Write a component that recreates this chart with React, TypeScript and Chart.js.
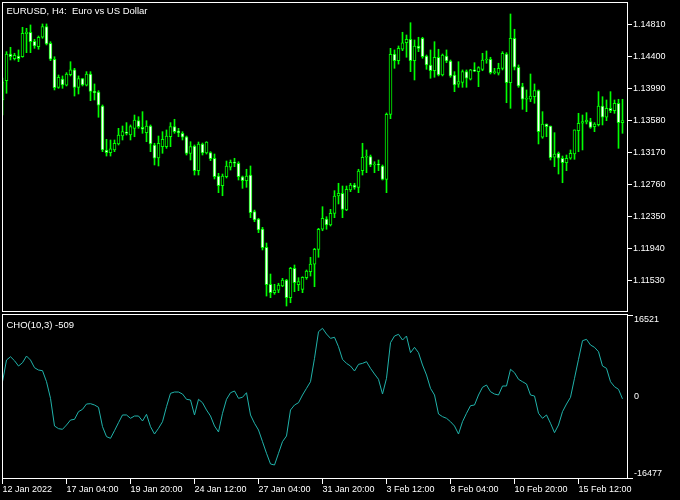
import React, { useEffect, useRef } from 'react';
import { Chart, registerables } from 'chart.js';

Chart.register(...registerables);

// ---- data (bar index -1 .. 154, H4 bars) ----
const opens = [
  1.13846, 1.14094, 1.14437, 1.14377, 1.14411, 1.14402, 1.14698, 1.14716, 1.14600, 1.14531,
  1.14652, 1.14788, 1.14575, 1.14369, 1.14009, 1.14116, 1.14035, 1.14171, 1.14232, 1.14009,
  1.14120, 1.14035, 1.14180, 1.13957, 1.13949, 1.13769, 1.13204, 1.13169, 1.13204, 1.13281,
  1.13383, 1.13435, 1.13396, 1.13482, 1.13580, 1.13495, 1.13426, 1.13512, 1.13268, 1.13101,
  1.13246, 1.13246, 1.13374, 1.13503, 1.13448, 1.13418, 1.13374, 1.13161, 1.13255, 1.12938,
  1.13281, 1.13165, 1.13169, 1.13097, 1.12869, 1.12745, 1.12860, 1.12982, 1.13045, 1.13033,
  1.12860, 1.12809, 1.12882, 1.12411, 1.12317, 1.12188, 1.11953, 1.11478, 1.11370, 1.11404,
  1.11456, 1.11533, 1.11306, 1.11683, 1.11473, 1.11413, 1.11563, 1.11640, 1.11735, 1.11927,
  1.12185, 1.12317, 1.12240, 1.12390, 1.12612, 1.12647, 1.12432, 1.12690, 1.12754, 1.12724,
  1.12938, 1.13110, 1.13118, 1.13011, 1.13024, 1.12998, 1.12827, 1.13662, 1.14437, 1.14351,
  1.14498, 1.14582, 1.14626, 1.14351, 1.14540, 1.14639, 1.14411, 1.14296, 1.14222, 1.14395,
  1.14167, 1.14411, 1.14347, 1.14167, 1.14048, 1.14073, 1.14210, 1.14112, 1.14232, 1.14210,
  1.14240, 1.14360, 1.14369, 1.14197, 1.14189, 1.14253, 1.14437, 1.14068, 1.14639, 1.14267,
  1.14017, 1.13855, 1.13855, 1.13888, 1.13966, 1.13367, 1.13538, 1.13512, 1.13110, 1.13161,
  1.13097, 1.13040, 1.13097, 1.13152, 1.13452, 1.13547, 1.13564, 1.13567, 1.13503, 1.13529,
  1.13769, 1.13624, 1.13739, 1.13709, 1.13804, 1.13555,
];

const highs = [
  1.14129, 1.14467, 1.14523, 1.14446, 1.14489, 1.14780, 1.14767, 1.14810, 1.14626, 1.14668,
  1.14823, 1.14823, 1.14595, 1.14402, 1.14167, 1.14155, 1.14197, 1.14338, 1.14253, 1.14155,
  1.14125, 1.14210, 1.14210, 1.14052, 1.13966, 1.13782, 1.13341, 1.13332, 1.13332, 1.13482,
  1.13512, 1.13555, 1.13525, 1.13653, 1.13631, 1.13696, 1.13580, 1.13525, 1.13290, 1.13383,
  1.13439, 1.13461, 1.13555, 1.13598, 1.13482, 1.13439, 1.13383, 1.13310, 1.13268, 1.13306,
  1.13293, 1.13310, 1.13182, 1.13152, 1.12904, 1.12895, 1.13062, 1.13075, 1.13097, 1.13053,
  1.12869, 1.12956, 1.12998, 1.12432, 1.12326, 1.12210, 1.12008, 1.11610, 1.11478, 1.11491,
  1.11555, 1.11542, 1.11696, 1.11726, 1.11563, 1.11575, 1.11662, 1.11825, 1.11940, 1.12197,
  1.12475, 1.12346, 1.12441, 1.12681, 1.12776, 1.12741, 1.12741, 1.12776, 1.12776, 1.12956,
  1.13290, 1.13204, 1.13139, 1.13053, 1.13075, 1.13011, 1.13679, 1.14510, 1.14489, 1.14540,
  1.14716, 1.14681, 1.14839, 1.14617, 1.14652, 1.14652, 1.14424, 1.14489, 1.14595, 1.14498,
  1.14437, 1.14489, 1.14360, 1.14210, 1.14338, 1.14232, 1.14232, 1.14240, 1.14325, 1.14274,
  1.14446, 1.14476, 1.14395, 1.14253, 1.14318, 1.14467, 1.14454, 1.14951, 1.14755, 1.14296,
  1.14061, 1.13975, 1.14180, 1.14052, 1.13975, 1.13696, 1.13538, 1.13512, 1.13426, 1.13178,
  1.13126, 1.13139, 1.13204, 1.13461, 1.13675, 1.13653, 1.13683, 1.13611, 1.13555, 1.13953,
  1.13888, 1.13846, 1.13953, 1.13846, 1.13855, 1.13855,
];

const lows = [
  1.13653, 1.13932, 1.14360, 1.14360, 1.14338, 1.14395, 1.14454, 1.14454, 1.14510, 1.14498,
  1.14639, 1.14553, 1.14351, 1.13975, 1.13996, 1.13996, 1.14026, 1.14155, 1.13897, 1.13923,
  1.14026, 1.14026, 1.13837, 1.13846, 1.13624, 1.13182, 1.13126, 1.13126, 1.13182, 1.13268,
  1.13332, 1.13396, 1.13332, 1.13374, 1.13482, 1.13418, 1.13310, 1.13182, 1.13011, 1.12998,
  1.13161, 1.13225, 1.13246, 1.13418, 1.13374, 1.13332, 1.13139, 1.13075, 1.12882, 1.12882,
  1.13139, 1.13152, 1.13066, 1.12831, 1.12655, 1.12616, 1.12844, 1.12946, 1.12989, 1.12818,
  1.12711, 1.12724, 1.12334, 1.12282, 1.12141, 1.11919, 1.11327, 1.11306, 1.11349, 1.11370,
  1.11447, 1.11199, 1.11241, 1.11383, 1.11396, 1.11370, 1.11542, 1.11584, 1.11447, 1.11825,
  1.12166, 1.12185, 1.12227, 1.12334, 1.12510, 1.12334, 1.12424, 1.12668, 1.12699, 1.12655,
  1.12882, 1.12912, 1.12989, 1.12912, 1.12938, 1.12818, 1.12655, 1.13606, 1.14253, 1.14307,
  1.14480, 1.14395, 1.14210, 1.14103, 1.14467, 1.14382, 1.14240, 1.14125, 1.14138, 1.14155,
  1.14155, 1.14325, 1.14138, 1.13953, 1.14009, 1.14009, 1.14009, 1.14103, 1.14210, 1.14017,
  1.14222, 1.14318, 1.14180, 1.14180, 1.14167, 1.14232, 1.13811, 1.13739, 1.14232, 1.14009,
  1.13726, 1.13696, 1.13824, 1.13804, 1.13281, 1.13354, 1.13374, 1.13075, 1.12989, 1.12895,
  1.12783, 1.12938, 1.13084, 1.13084, 1.13182, 1.13204, 1.13538, 1.13482, 1.13439, 1.13512,
  1.13525, 1.13580, 1.13683, 1.13675, 1.13225, 1.13418,
];

const closes = [
  1.14078, 1.14437, 1.14402, 1.14420, 1.14377, 1.14703, 1.14720, 1.14595, 1.14540, 1.14652,
  1.14788, 1.14566, 1.14369, 1.14004, 1.14138, 1.14039, 1.14180, 1.14232, 1.14009, 1.14120,
  1.14039, 1.14180, 1.13957, 1.13940, 1.13778, 1.13204, 1.13169, 1.13220, 1.13290, 1.13396,
  1.13439, 1.13418, 1.13503, 1.13589, 1.13503, 1.13470, 1.13512, 1.13281, 1.13097, 1.13290,
  1.13341, 1.13383, 1.13503, 1.13439, 1.13426, 1.13367, 1.13161, 1.13246, 1.12938, 1.13281,
  1.13165, 1.13306, 1.13092, 1.12860, 1.12745, 1.12869, 1.12998, 1.13045, 1.13033, 1.12860,
  1.12809, 1.12869, 1.12398, 1.12304, 1.12176, 1.11948, 1.11473, 1.11370, 1.11404, 1.11469,
  1.11533, 1.11306, 1.11683, 1.11498, 1.11512, 1.11568, 1.11649, 1.11739, 1.11927, 1.12185,
  1.12326, 1.12240, 1.12390, 1.12612, 1.12647, 1.12441, 1.12699, 1.12754, 1.12724, 1.12934,
  1.13110, 1.13118, 1.13011, 1.13024, 1.13011, 1.12827, 1.13662, 1.14433, 1.14351, 1.14510,
  1.14582, 1.14626, 1.14351, 1.14540, 1.14510, 1.14402, 1.14296, 1.14222, 1.14395, 1.14167,
  1.14424, 1.14347, 1.14155, 1.14039, 1.14081, 1.14210, 1.14125, 1.14232, 1.14215, 1.14261,
  1.14360, 1.14369, 1.14197, 1.14210, 1.14253, 1.14446, 1.14068, 1.14639, 1.14267, 1.14026,
  1.13855, 1.13863, 1.13897, 1.13966, 1.13439, 1.13538, 1.13503, 1.13105, 1.13152, 1.13097,
  1.13040, 1.13097, 1.13161, 1.13461, 1.13547, 1.13567, 1.13589, 1.13495, 1.13538, 1.13769,
  1.13624, 1.13739, 1.13709, 1.13804, 1.13555, 1.13580,
];

const cho = [
  3170, 7810, 8520, 7670, 6530, 7240, 8670, 7810, 6170, 5670,
  5530, 3170, -390, -6320, -6890, -7030, -6110, -5040, -4890, -3250,
  -2750, -1610, -1540, -1820, -2320, -6460, -8600, -8960, -7320, -5610,
  -3960, -3960, -4670, -4180, -4180, -5250, -3820, -6460, -8040, -6820,
  -5400, -2180, 680, 960, 960, 530, -600, -750, -3960, -600,
  -1330, -2890, -4180, -6320, -7600, -3600, -600, 810, 1180, -390,
  -170, 810, -3960, -5740, -7180, -9680, -12170, -14460, -14680, -12170,
  -9680, -8460, -2890, -1820, -1330, 320, 1750, 3170, 8180, 13890,
  14610, 13390, 12460, 12690, 10670, 7960, 7100, 6530, 5460, 6890,
  7100, 7460, 6040, 4820, 3690, 530, 3900, 11530, 12960, 13330,
  12100, 12960, 9390, 10540, 9390, 6750, 4610, 1750, 320, -3750,
  -4320, -4670, -5400, -6320, -8040, -5400, -3600, -1970, -1820, 320,
  1970, 2460, 1030, 530, 320, 2250, 2250, 5830, 5100, 3690,
  3170, 2680, 320, 110, -3600, -4670, -3960, -5740, -7750, -6110,
  -3250, -1610, -170, 3900, 7960, 11960, 12250, 11030, 10540, 9600,
  6530, 6040, 3170, 2100, 1540, -509,
];

const firstBar = -1;
const timeTickBars = [-1, 15, 31, 47, 63, 79, 95, 111, 127, 143];
const timeTickLabels = [
  '12 Jan 2022', '17 Jan 04:00', '19 Jan 20:00', '24 Jan 12:00', '27 Jan 04:00',
  '31 Jan 20:00', '3 Feb 12:00', '8 Feb 04:00', '10 Feb 20:00', '15 Feb 12:00',
];
const priceTicks = [1.1153, 1.1194, 1.1235, 1.1276, 1.1317, 1.1358, 1.1399, 1.144, 1.1481];
const choTicks = [-16477, 0, 16521];
const mainTitle = 'EURUSD, H4:  Euro vs US Dollar';
const choTitle = 'CHO(10,3) -509';

// ---- styling ----
const FONT = 'Liberation Sans';
const LIME = '#00ff00';
const CYAN = '#20b2aa';
const X_MIN = -1.125;
const X_MAX = 155.375;

const framePlugin = {
  id: 'mtFrame',
  afterDraw(chart: any, _args: any, opts: any) {
    const { ctx, chartArea: a } = chart;
    ctx.save();
    ctx.strokeStyle = '#ffffff';
    ctx.lineWidth = 1;
    ctx.strokeRect(a.left + 0.5, a.top + 0.5, a.right - a.left - 1, a.bottom - a.top - 1);
    if (opts.stubs) {
      ctx.beginPath();
      ctx.moveTo(a.right, a.top + 1.5);
      ctx.lineTo(a.right + 5, a.top + 1.5);
      ctx.moveTo(a.right, a.bottom - 0.5);
      ctx.lineTo(a.right + 5, a.bottom - 0.5);
      ctx.stroke();
    }
    if (opts.label) {
      ctx.fillStyle = '#ffffff';
      ctx.font = `${opts.size || 9}px "${FONT}"`;
      ctx.textBaseline = 'alphabetic';
      ctx.textAlign = 'left';
      ctx.fillText(opts.label, a.left + 4.5, a.top + opts.labelDy);
    }
    ctx.restore();
  },
};

const noPad = (s: any) => {
  s.paddingTop = 0;
  s.paddingBottom = 0;
  s.paddingLeft = 0;
  s.paddingRight = 0;
};

export default function App() {
  const mainRef = useRef<HTMLCanvasElement | null>(null);
  const subRef = useRef<HTMLCanvasElement | null>(null);

  useEffect(() => {
    const tickFont = { family: FONT, size: 9 };
    const main = new Chart(mainRef.current as HTMLCanvasElement, {
      type: 'bar',
      data: {
        datasets: [
          {
            label: 'body',
            data: opens.map((o, i) => ({ x: i + firstBar, y: [o, closes[i]] })) as any,
            backgroundColor: opens.map((o, i) => (closes[i] < o ? '#ffffff' : '#000000')),
            borderColor: LIME,
            borderWidth: 1,
            borderSkipped: false,
            barThickness: 3,
            minBarLength: 1,
            grouped: false,
          } as any,
          {
            label: 'wick',
            data: lows.map((l, i) => ({ x: i + firstBar, y: [l, highs[i]] })) as any,
            backgroundColor: LIME,
            borderWidth: 0,
            barThickness: 1,
            minBarLength: 1,
            grouped: false,
          } as any,
        ],
      },
      options: {
        animation: false,
        responsive: false,
        devicePixelRatio: 1,
        layout: { padding: { left: 2, top: 2, right: 0, bottom: 1 } },
        plugins: {
          legend: { display: false },
          tooltip: { enabled: false },
          mtFrame: { label: mainTitle, labelDy: 12, size: 9.5 },
        } as any,
        scales: {
          x: { type: 'linear', min: X_MIN, max: X_MAX, offset: false, display: false },
          y: {
            position: 'right',
            min: 1.11122,
            max: 1.15105,
            afterBuildTicks: (s: any) => { s.ticks = priceTicks.map((v) => ({ value: v })); },
            afterFit: (s: any) => { s.width = 52; noPad(s); },
            grid: { drawOnChartArea: false, color: '#ffffff', tickLength: 4 },
            border: { display: false },
            ticks: {
              color: '#ffffff',
              font: tickFont,
              padding: 1,
              callback: (v: any) => Number(v).toFixed(5),
            },
          },
        },
      } as any,
      plugins: [framePlugin],
    });

    const sub = new Chart(subRef.current as HTMLCanvasElement, {
      type: 'line',
      data: {
        datasets: [
          {
            label: 'CHO',
            data: cho.map((v, i) => ({ x: i + firstBar, y: v })) as any,
            borderColor: CYAN,
            borderWidth: 1,
            pointRadius: 0,
            tension: 0,
            fill: false,
          },
        ],
      },
      options: {
        animation: false,
        responsive: false,
        devicePixelRatio: 1,
        layout: { padding: { left: 2, top: 1, right: 0, bottom: 0 } },
        plugins: {
          legend: { display: false },
          tooltip: { enabled: false },
          mtFrame: { label: choTitle, labelDy: 14, stubs: true, size: 9.5 },
        } as any,
        scales: {
          x: {
            type: 'linear',
            min: X_MIN,
            max: X_MAX,
            offset: false,
            afterBuildTicks: (s: any) => { s.ticks = timeTickBars.map((v) => ({ value: v })); },
            afterFit: (s: any) => { s.height = 21; noPad(s); },
            grid: { drawOnChartArea: false, color: '#ffffff', tickLength: 5 },
            border: { display: false },
            ticks: {
              color: '#ffffff',
              font: tickFont,
              autoSkip: false,
              maxRotation: 0,
              minRotation: 0,
              align: 'start',
              padding: 0,
              callback: (_v: any, i: number) => timeTickLabels[i],
            },
          },
          y: {
            position: 'right',
            min: -17680,
            max: 17680,
            afterBuildTicks: (s: any) => { s.ticks = choTicks.map((v) => ({ value: v })); },
            afterFit: (s: any) => { s.width = 52; noPad(s); },
            grid: { drawOnChartArea: false, drawTicks: false },
            border: { display: false },
            ticks: {
              color: '#ffffff',
              font: tickFont,
              padding: 6,
              callback: (v: any) => String(v),
            },
          },
        },
      } as any,
      plugins: [framePlugin],
    });

    return () => {
      main.destroy();
      sub.destroy();
    };
  }, []);

  return (
    <div style={{ position: 'fixed', left: 0, top: 0, width: 680, height: 500, background: '#000000', overflow: 'hidden' }}>
      <canvas ref={mainRef} width={680} height={313} style={{ position: 'absolute', left: 0, top: 0, width: 680, height: 313 }} />
      <canvas ref={subRef} width={680} height={187} style={{ position: 'absolute', left: 0, top: 313, width: 680, height: 187 }} />
    </div>
  );
}
